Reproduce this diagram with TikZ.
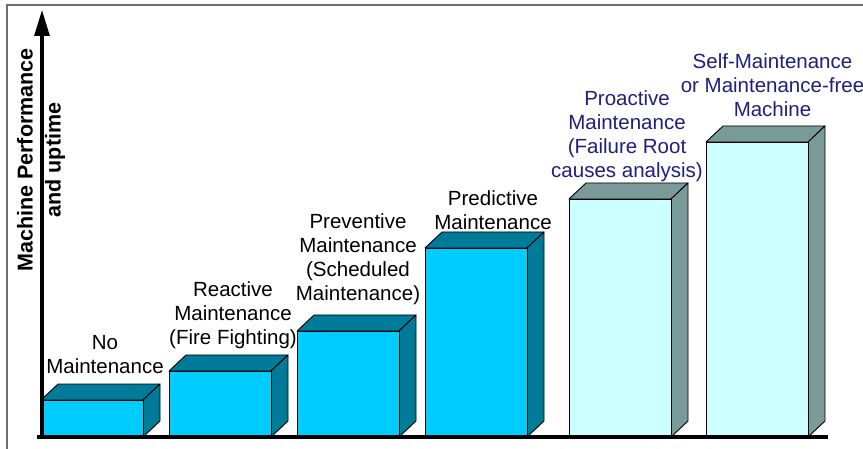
\documentclass[tikz,border=0pt]{standalone}
\usepackage{fontspec}
\setmainfont{Liberation Sans}
\usetikzlibrary{arrows.meta}
\definecolor{cyanfront}{RGB}{0,204,255}
\definecolor{cyanside}{RGB}{0,122,153}
\definecolor{palefront}{RGB}{204,255,255}
\definecolor{paleside}{RGB}{122,154,153}
\definecolor{navytext}{RGB}{31,31,128}
\definecolor{framegray}{RGB}{110,110,110}
\newcommand\barthreed[5]{%
  \filldraw[fill=#5,draw=black,line width=0.9pt,line join=round] (#1,#3) -- (#2,#3) -- ({#2+17},{#3-16}) -- ({#1+17},{#3-16}) -- cycle;
  \filldraw[fill=#5,draw=black,line width=0.9pt,line join=round] (#2,437) -- (#2,#3) -- ({#2+17},{#3-16}) -- ({#2+17},421) -- cycle;
  \filldraw[fill=#4,draw=black,line width=0.9pt] (#1,437) rectangle (#2,#3);
}
\tikzset{
  lab/.style={font=\fontsize{20.5}{24}\selectfont, align=center, inner sep=0pt, anchor=north},
  axtitle/.style={font=\bfseries\fontsize{21.5}{28}\selectfont, align=center, inner sep=0pt, rotate=90},
  axisline/.style={line width=3.2pt, black},
  framebox/.style={line width=1.2pt, framegray}
}
\begin{document}
\begin{tikzpicture}[x=1pt,y=-1pt]
\useasboundingbox (0,0) rectangle (863,449);
\fill[white] (0,0) rectangle (863,449);
% frame
\coordinate (fa) at (7,449);
\coordinate (fb) at (7,5);
\coordinate (fc) at (863,5);
\draw[framebox] (fa) -- (fb) -- (fc);
% labels
\node[lab] (l1) at (105,335) {No\\Maintenance};
\node[lab] (l2) at (233,281) {Reactive\\Maintenance\\(Fire Fighting)};
\node[lab] (l3) at (358,213) {Preventive\\Maintenance\\(Scheduled\\Maintenance)};
\node[lab] (l4) at (493,190) {Predictive\\Maintenance};
\node[lab, text=navytext] (l5) at (627,90) {Proactive\\Maintenance\\(Failure Root\\causes analysis)};
\node[lab, text=navytext] (l6) at (772.5,53) {Self-Maintenance\\or Maintenance-free\\Machine};
% bars
\barthreed{41}{143}{400}{cyanfront}{cyanside}
\barthreed{169}{271}{371}{cyanfront}{cyanside}
\barthreed{297}{399}{331}{cyanfront}{cyanside}
\barthreed{425}{527}{248}{cyanfront}{cyanside}
\barthreed{569}{671}{199}{palefront}{paleside}
\barthreed{706}{808}{142}{palefront}{paleside}
% axes
\coordinate (o) at (42,437);
\coordinate (top) at (42,10);
\coordinate (xl) at (37,437);
\coordinate (xr) at (828,437);
\draw[axisline] (xl) -- (xr);
\draw[axisline, -{Triangle[length=26pt,width=15pt]}] (o) -- (top);
\node[axtitle] (yt) at (41,160) {Machine Performance\\and uptime};
\end{tikzpicture}
\end{document}
